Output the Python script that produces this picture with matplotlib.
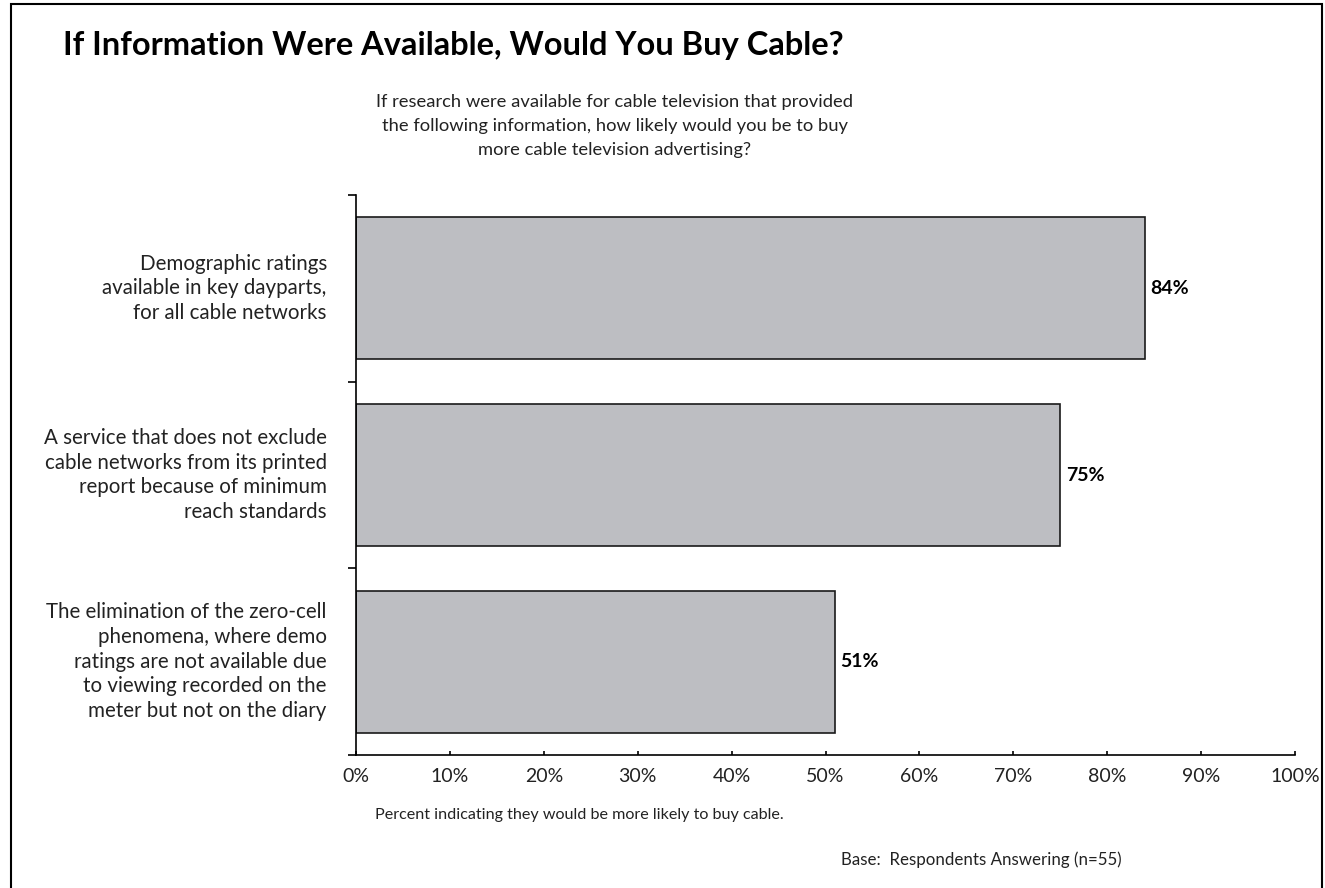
import matplotlib
matplotlib.use("Agg")
import matplotlib.pyplot as plt
from matplotlib.patches import Rectangle

plt.rcParams['font.family'] = ['Lato', 'DejaVu Sans']

title = "If Information Were Available, Would You Buy Cable?"
question = ("If research were available for cable television that provided\n"
            "the following information, how likely would you be to buy\n"
            "more cable television advertising?")
categories = [
    "Demographic ratings\navailable in key dayparts,\nfor all cable networks",
    "A service that does not exclude\ncable networks from its printed\nreport because of minimum\nreach standards",
    "The elimination of the zero-cell\nphenomena, where demo\nratings are not available due\nto viewing recorded on the\nmeter but not on the diary",
]
values = [84, 75, 51]
xticks = [0, 10, 20, 30, 40, 50, 60, 70, 80, 90, 100]
note = "Percent indicating they would be more likely to buy cable."
base = "Base:  Respondents Answering (n=55)"

W, H = 1325, 888
fig = plt.figure(figsize=(W / 100, H / 100), dpi=100)


def fx(x):
    return x / W


def fy(y):
    return 1 - y / H


# outer frame, open at the bottom
fig.patches.append(Rectangle((fx(11), fy(900)), fx(1322) - fx(11), fy(4) - fy(900),
                             transform=fig.transFigure, fill=False,
                             edgecolor='black', linewidth=1.5))

ax = fig.add_axes([fx(356), fy(755), fx(1295) - fx(356), fy(195) - fy(755)])

ypos = [2.5, 1.5, 0.5]
ax.barh(ypos, values, height=0.76, color='#bdbec2', edgecolor='#1a1a1a', linewidth=1.2)

for y, v in zip(ypos, values):
    ax.annotate(f"{v}%", xy=(v, y), xytext=(4, 0), textcoords='offset points',
                ha='left', va='center', fontsize=14, fontweight='bold', color='black')

ax.set_xlim(0, 100)
ax.set_ylim(0, 3)
ax.set_xticks(xticks)
ax.set_xticklabels([f"{t}%" for t in xticks], fontsize=14, color='#222222')
ax.set_yticks([0, 1, 2, 3])
ax.set_yticklabels([])
ax.tick_params(axis='x', direction='in', length=3, width=1.2, pad=9.5)
ax.tick_params(axis='y', direction='out', length=6, width=1.2)
for s in ['top', 'right']:
    ax.spines[s].set_visible(False)
for s in ['left', 'bottom']:
    ax.spines[s].set_linewidth(1.2)

for y, c in zip(ypos, categories):
    ax.annotate(c, xy=(0, y), xycoords='data', xytext=(-21, 0), textcoords='offset points',
                ha='right', va='center', fontsize=14.8, color='#222222', linespacing=1.29)

fig.text(fx(63), fy(45), title, ha='left', va='center', fontsize=23.5, fontweight='bold')
fig.text(fx(615), fy(126), question, ha='center', va='center', fontsize=13.2,
         color='#222222', linespacing=1.63)
fig.text(fx(375), fy(815), note, ha='left', va='center', fontsize=11.6, color='#222222')
fig.text(fx(1122), fy(860), base, ha='right', va='center', fontsize=12.2, color='#222222')

fig.savefig("out.png", dpi=100)
